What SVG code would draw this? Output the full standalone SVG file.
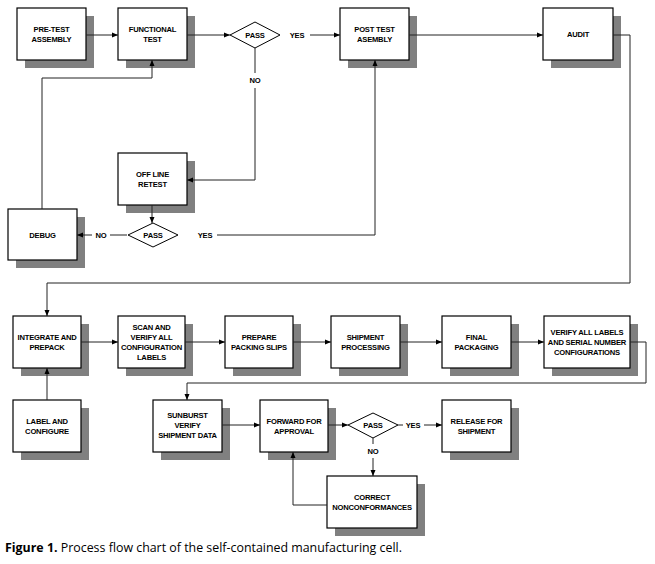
<svg xmlns="http://www.w3.org/2000/svg" width="655" height="564" viewBox="0 0 655 564">
<style>
.sh{fill:#808080}
.bx{fill:#fff;stroke:#000;stroke-width:1.2}
.dm{fill:#fff;stroke:#000;stroke-width:1}
.t{font-family:"Liberation Sans",Arial,sans-serif;font-weight:bold;font-size:7.6px;letter-spacing:-0.2px;fill:#000;text-anchor:middle}
.c{fill:none;stroke:#222;stroke-width:1}
.cap{font-family:"Open Sans","Liberation Sans",sans-serif;font-size:12.4px;fill:#000}
</style>
<defs>
<marker id="ah" markerWidth="7" markerHeight="7" refX="6" refY="3.5" orient="auto" markerUnits="userSpaceOnUse">
<path d="M0,1 L6,3.5 L0,6 Z" fill="#000"/>
</marker>
</defs>
<rect width="655" height="564" fill="#fff"/>

<g id="pretest"><rect class="sh" x="25" y="16" width="69" height="52"/><rect class="bx" x="17" y="8" width="69" height="52"/><text class="t" x="51.5" y="32">PRE-TEST</text><text class="t" x="51.5" y="42">ASSEMBLY</text></g>
<g id="functional"><rect class="sh" x="126" y="16" width="69" height="52"/><rect class="bx" x="118" y="8" width="69" height="52"/><text class="t" x="152.5" y="32">FUNCTIONAL</text><text class="t" x="152.5" y="42">TEST</text></g>
<g id="pass1"><polygon class="dm" points="230,35 255,22 280,35 255,48"/><text class="t" x="255" y="38">PASS</text></g>
<g id="posttest"><rect class="sh" x="348" y="16" width="69" height="52"/><rect class="bx" x="340" y="8" width="69" height="52"/><text class="t" x="374.5" y="32">POST TEST</text><text class="t" x="374.5" y="42">ASEMBLY</text></g>
<g id="audit"><rect class="sh" x="551" y="16" width="70" height="52"/><rect class="bx" x="543" y="8" width="70" height="52"/><text class="t" x="578" y="37">AUDIT</text></g>
<g id="offline"><rect class="sh" x="126" y="161" width="69" height="52"/><rect class="bx" x="118" y="153" width="69" height="52"/><text class="t" x="152.5" y="177">OFF LINE</text><text class="t" x="152.5" y="187">RETEST</text></g>
<g id="pass2"><polygon class="dm" points="128,235 153,223 178,235 153,247"/><text class="t" x="153" y="238">PASS</text></g>
<g id="debug"><rect class="sh" x="16" y="217" width="69" height="51"/><rect class="bx" x="8" y="209" width="69" height="51"/><text class="t" x="42.5" y="238">DEBUG</text></g>

<g id="integrate"><rect class="sh" x="21" y="324" width="68" height="52"/><rect class="bx" x="13" y="316" width="68" height="52"/><text class="t" x="47" y="340">INTEGRATE AND</text><text class="t" x="47" y="350">PREPACK</text></g>
<g id="scan"><rect class="sh" x="126" y="324" width="67" height="52"/><rect class="bx" x="118" y="316" width="67" height="52"/><text class="t" x="151.5" y="330">SCAN AND</text><text class="t" x="151.5" y="340">VERIFY ALL</text><text class="t" x="151.5" y="350">CONFIGURATION</text><text class="t" x="151.5" y="360">LABELS</text></g>
<g id="prepare"><rect class="sh" x="233" y="324" width="68" height="52"/><rect class="bx" x="225" y="316" width="68" height="52"/><text class="t" x="259" y="340">PREPARE</text><text class="t" x="259" y="350">PACKING SLIPS</text></g>
<g id="shipment"><rect class="sh" x="339" y="324" width="69" height="52"/><rect class="bx" x="331" y="316" width="69" height="52"/><text class="t" x="365.5" y="340">SHIPMENT</text><text class="t" x="365.5" y="350">PROCESSING</text></g>
<g id="final"><rect class="sh" x="450" y="324" width="69" height="52"/><rect class="bx" x="442" y="316" width="69" height="52"/><text class="t" x="476.5" y="340">FINAL</text><text class="t" x="476.5" y="350">PACKAGING</text></g>
<g id="verify"><rect class="sh" x="552" y="324" width="86" height="52"/><rect class="bx" x="544" y="316" width="86" height="52"/><text class="t" x="587" y="335">VERIFY ALL LABELS</text><text class="t" x="587" y="345">AND SERIAL NUMBER</text><text class="t" x="587" y="355">CONFIGURATIONS</text></g>

<g id="label"><rect class="sh" x="21" y="408" width="68" height="52"/><rect class="bx" x="13" y="400" width="68" height="52"/><text class="t" x="47" y="424">LABEL AND</text><text class="t" x="47" y="434">CONFIGURE</text></g>
<g id="sunburst"><rect class="sh" x="161" y="408" width="69" height="52"/><rect class="bx" x="153" y="400" width="69" height="52"/><text class="t" x="187.5" y="418">SUNBURST</text><text class="t" x="187.5" y="428">VERIFY</text><text class="t" x="187.5" y="438">SHIPMENT DATA</text></g>
<g id="forward"><rect class="sh" x="268" y="408" width="68" height="52"/><rect class="bx" x="260" y="400" width="68" height="52"/><text class="t" x="294" y="424">FORWARD FOR</text><text class="t" x="294" y="434">APPROVAL</text></g>
<g id="pass3"><polygon class="dm" points="348,425 373,413 398,425 373,438"/><text class="t" x="373" y="428">PASS</text></g>
<g id="release"><rect class="sh" x="450" y="408" width="69" height="52"/><rect class="bx" x="442" y="400" width="69" height="52"/><text class="t" x="476.5" y="424">RELEASE FOR</text><text class="t" x="476.5" y="434">SHIPMENT</text></g>
<g id="correct"><rect class="sh" x="335" y="484" width="90" height="52"/><rect class="bx" x="327" y="476" width="90" height="52"/><text class="t" x="372" y="500">CORRECT</text><text class="t" x="372" y="510">NONCONFORMANCES</text></g>

<g id="connectors">
<path class="c" d="M86,35 H118" marker-end="url(#ah)"/>
<path class="c" d="M187,35 H230" marker-end="url(#ah)"/>
<path class="c" d="M310,35 H340" marker-end="url(#ah)"/>
<path class="c" d="M409,35 H543" marker-end="url(#ah)"/>
<path class="c" d="M613,35 H630 V283 H47 V316" marker-end="url(#ah)"/>
<path class="c" d="M255,48 V73"/>
<path class="c" d="M255,88 V180 H187" marker-end="url(#ah)"/>
<path class="c" d="M152,205 V223" marker-end="url(#ah)"/>
<path class="c" d="M127,235 H110"/>
<path class="c" d="M92,235 H77" marker-end="url(#ah)"/>
<path class="c" d="M217,235 H375 V60" marker-end="url(#ah)"/>
<path class="c" d="M42,209 V78 H152 V60" marker-end="url(#ah)"/>
<path class="c" d="M81,342 H118" marker-end="url(#ah)"/>
<path class="c" d="M185,342 H225" marker-end="url(#ah)"/>
<path class="c" d="M293,342 H331" marker-end="url(#ah)"/>
<path class="c" d="M400,342 H442" marker-end="url(#ah)"/>
<path class="c" d="M511,342 H544" marker-end="url(#ah)"/>
<path class="c" d="M630,342 H646 V383 H187 V400" marker-end="url(#ah)"/>
<path class="c" d="M47,400 V368" marker-end="url(#ah)"/>
<path class="c" d="M222,425 H260" marker-end="url(#ah)"/>
<path class="c" d="M328,425 H348" marker-end="url(#ah)"/>
<path class="c" d="M398,425 H403"/>
<path class="c" d="M424,425 H442" marker-end="url(#ah)"/>
<path class="c" d="M373,438 V444"/>
<path class="c" d="M373,458 V476" marker-end="url(#ah)"/>
<path class="c" d="M327,505 H293 V452" marker-end="url(#ah)"/>
<text class="t" x="297" y="38">YES</text>
<text class="t" x="255" y="83">NO</text>
<text class="t" x="101" y="238">NO</text>
<text class="t" x="205" y="238">YES</text>
<text class="t" x="413" y="428">YES</text>
<text class="t" x="373" y="454">NO</text>
</g>

<text class="cap" x="5" y="552"><tspan font-weight="bold">Figure 1.</tspan> Process flow chart of the self-contained manufacturing cell.</text>
</svg>
